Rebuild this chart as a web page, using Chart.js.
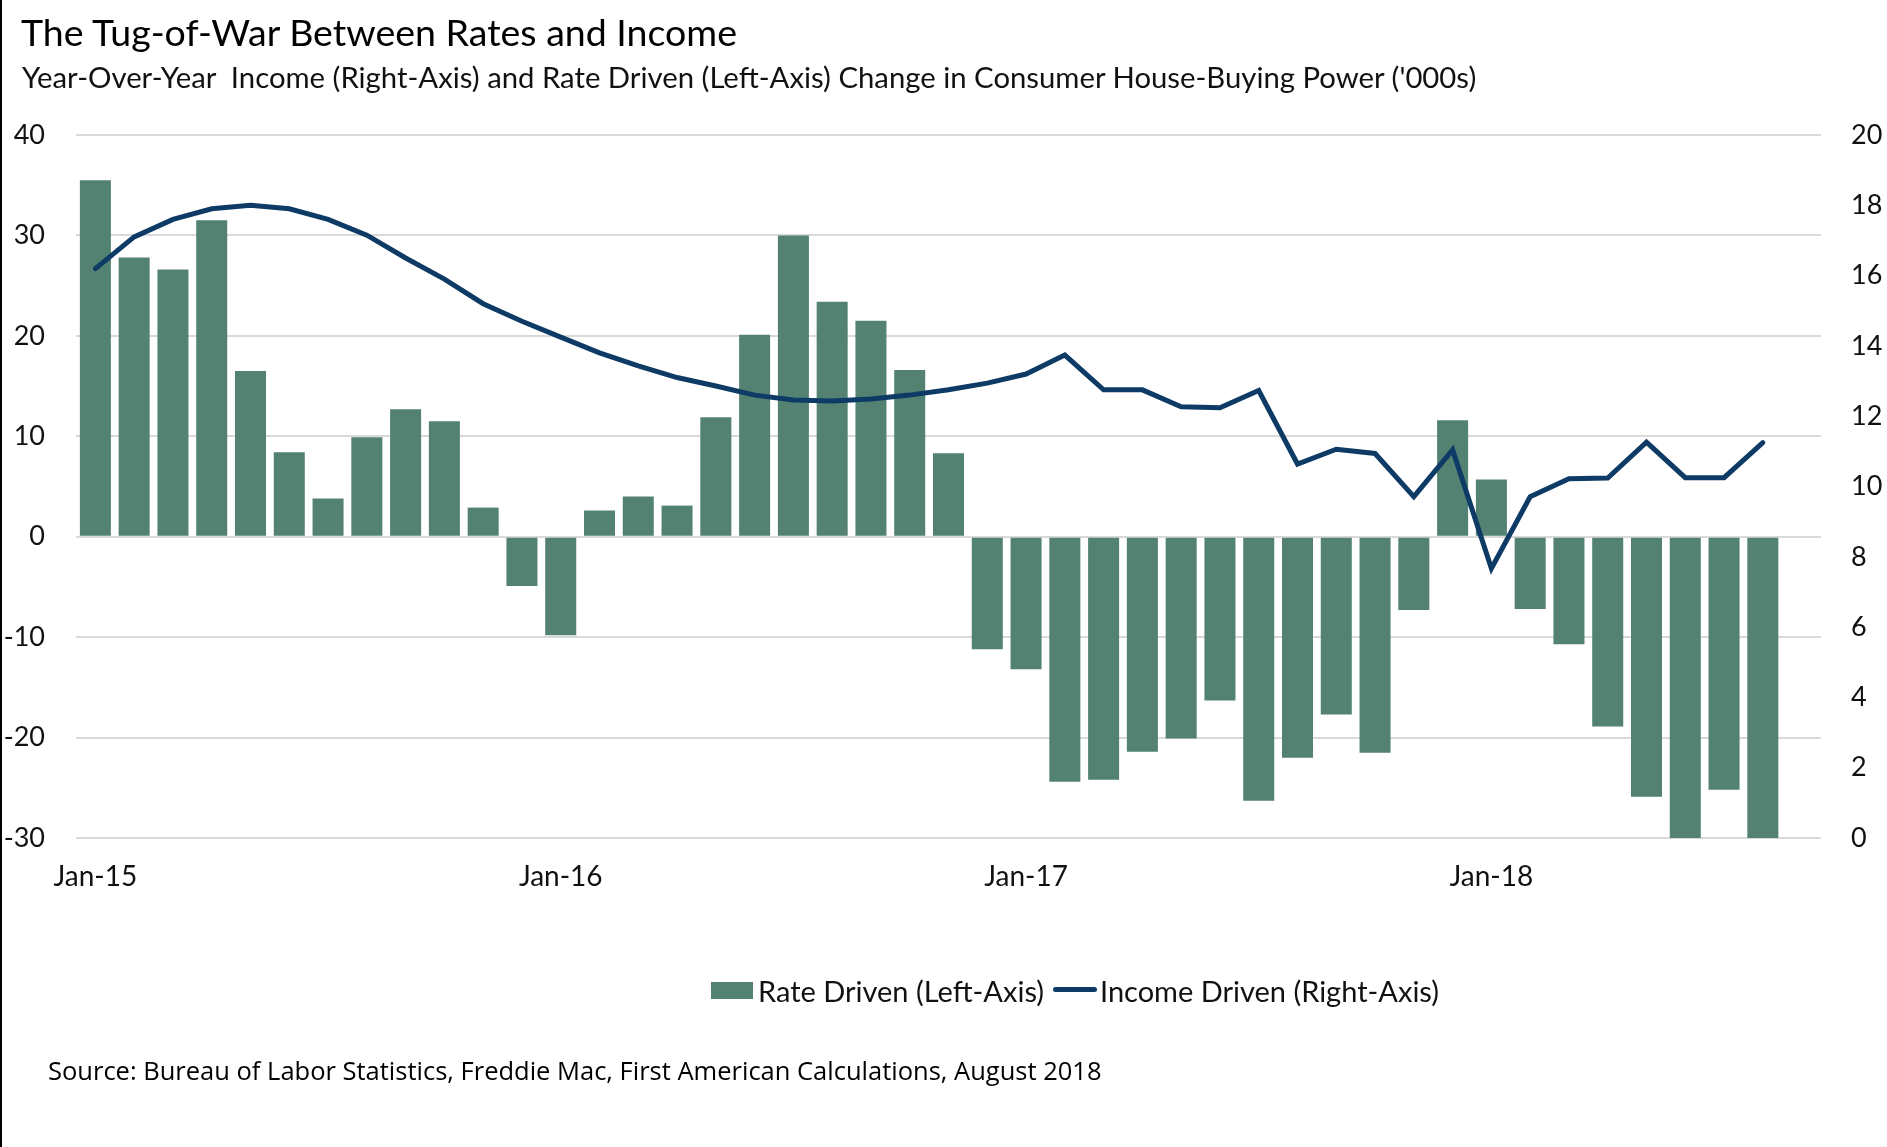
<!DOCTYPE html>
<html lang="en">
<head>
<meta charset="UTF-8">
<title>The Tug-of-War Between Rates and Income</title>
<style>
  body { margin: 0; background: #fff; }
  .page { position: relative; width: 1887px; height: 1147px; overflow: hidden; background: #fff; }
  .edge { position: absolute; left: 0; top: 0; width: 2px; height: 1147px; background: #000; }
  .txt { position: absolute; white-space: pre; line-height: 1; color: #000; }
  .title { left: 21px; top: 9px; font: 37.5px Lato, sans-serif; }
  .subtitle { left: 22px; top: 59px; font: 29.3px Lato, sans-serif; color: #111; }
  .source { left: 48px; top: 1053px; font: 25.5px "Open Sans", sans-serif; color: #000; }
  .leg-text { top: 973px; font: 29px Lato, sans-serif; color: #111; }
  .leg-box { position: absolute; left: 711px; top: 982px; width: 42px; height: 17px; background: #538273; }
  .leg-line { position: absolute; left: 1053px; top: 987px; width: 44px; height: 5px; border-radius: 3px; background: #0d3b66; }
  #chart { position: absolute; left: 0; top: 0; }
</style>
</head>
<body>
<script src="https://cdn.jsdelivr.net/npm/chart.js"></script>

<div class="page">
  <canvas id="chart" width="1887" height="1147"></canvas>
  <div class="edge"></div>
  <div class="txt title">The Tug-of-War Between Rates and Income</div>
  <div class="txt subtitle">Year-Over-Year  Income (Right-Axis) and Rate Driven (Left-Axis) Change in Consumer House-Buying Power ('000s)</div>

  <span class="leg-box"></span>
  <div class="txt leg-text" style="left:758px">Rate Driven (Left-Axis)</div>
  <span class="leg-line"></span>
  <div class="txt leg-text" style="left:1100px">Income Driven (Right-Axis)</div>

  <div class="txt source">Source: Bureau of Labor Statistics, Freddie Mac, First American Calculations, August 2018</div>
</div>

<script>
// months Jan-15 .. Sep-18 (last slot is left empty like the original)
const months = [
  'Jan-15','Feb-15','Mar-15','Apr-15','May-15','Jun-15','Jul-15','Aug-15','Sep-15','Oct-15','Nov-15','Dec-15',
  'Jan-16','Feb-16','Mar-16','Apr-16','May-16','Jun-16','Jul-16','Aug-16','Sep-16','Oct-16','Nov-16','Dec-16',
  'Jan-17','Feb-17','Mar-17','Apr-17','May-17','Jun-17','Jul-17','Aug-17','Sep-17','Oct-17','Nov-17','Dec-17',
  'Jan-18','Feb-18','Mar-18','Apr-18','May-18','Jun-18','Jul-18','Aug-18','Sep-18'
];

// rate driven change ('000s), left axis
const rateDriven = [
  35.5, 27.8, 26.6, 31.5, 16.5, 8.4, 3.8, 9.9, 12.7, 11.5, 2.9, -4.9,
  -9.8, 2.6, 4.0, 3.1, 11.9, 20.1, 30.0, 23.4, 21.5, 16.6, 8.3, -11.2,
  -13.2, -24.4, -24.2, -21.4, -20.1, -16.3, -26.3, -22.0, -17.7, -21.5, -7.3, 11.6,
  5.7, -7.2, -10.7, -18.9, -25.9, -31.5, -25.2, -31.0
];

// income driven change ('000s), right axis
const incomeDriven = [
  16.2, 17.1, 17.6, 17.9, 18.0, 17.9, 17.6, 17.15, 16.5, 15.9, 15.2, 14.7,
  14.25, 13.8, 13.43, 13.1, 12.86, 12.6, 12.46, 12.43, 12.49, 12.6, 12.75, 12.94,
  13.2, 13.74, 12.75, 12.75, 12.27, 12.24, 12.73, 10.64, 11.06, 10.94, 9.71, 11.04,
  7.67, 9.71, 10.22, 10.24, 11.26, 10.25, 10.25, 11.25
];

const leftTicks = [-30, 40, 10];   // min, max, step
const rightTicks = [0, 20, 2];

const barColor = '#538273';
const lineColor = '#0d3b66';
const tickFont = { family: 'Lato', size: 27 };

const data = {
  labels: months,
  datasets: [
    {
      type: 'line',
      label: 'Income Driven (Right-Axis)',
      data: incomeDriven,
      yAxisID: 'y1',
      borderColor: lineColor,
      borderWidth: 5,
      borderCapStyle: 'round',
      borderJoinStyle: 'miter',
      pointRadius: 0,
      tension: 0,
      order: 0
    },
    {
      type: 'bar',
      label: 'Rate Driven (Left-Axis)',
      data: rateDriven,
      yAxisID: 'y',
      backgroundColor: barColor,
      barPercentage: 0.8,
      categoryPercentage: 1.0,
      order: 1
    }
  ]
};

const config = {
  data: data,
  options: {
    responsive: false,
    animation: false,
    layout: { padding: { top: 135, bottom: 249, left: 0, right: 0 } },
    plugins: {
      legend: { display: false },
      tooltip: { enabled: false }
    },
    scales: {
      x: {
        offset: true,
        grid: { display: false, drawTicks: false },
        border: { display: false },
        ticks: {
          autoSkip: false,
          maxRotation: 0,
          padding: 22,
          color: '#111',
          font: { family: 'Lato', size: 28 },
          callback: function (val, i) { return i % 12 === 0 ? months[i] : ''; }
        },
        afterFit: function (s) { s.height = 60; }
      },
      y: {
        position: 'left',
        min: leftTicks[0], max: leftTicks[1],
        grid: { color: '#d9d9d9', lineWidth: 2, drawTicks: false },
        border: { display: false },
        ticks: { stepSize: leftTicks[2], padding: 31, color: '#111', font: tickFont },
        afterFit: function (s) { s.width = 76; }
      },
      y1: {
        position: 'right',
        min: rightTicks[0], max: rightTicks[1],
        grid: { display: false, drawTicks: false },
        border: { display: false },
        ticks: { stepSize: rightTicks[2], padding: 30, color: '#111', font: tickFont },
        afterFit: function (s) { s.width = 66; }
      }
    }
  }
};

new Chart(document.getElementById('chart'), config);
</script>
</body>
</html>
